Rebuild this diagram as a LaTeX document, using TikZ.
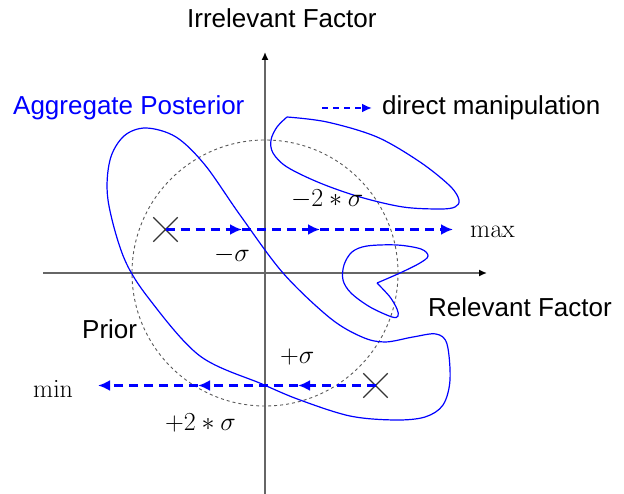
\documentclass[tikz,border=0pt]{standalone}
\usepackage[no-math]{fontspec}
\setmainfont{Liberation Sans}
\usetikzlibrary{arrows.meta,shapes.misc}
\newcommand\mymth[1]{\scalebox{1.045}{$#1$}}
\begin{document}
\begin{tikzpicture}[x=1pt,y=-1pt,
  lbl/.style={inner sep=0pt, anchor=base west, font=\fontsize{26}{31}\selectfont},
  mlbl/.style={inner sep=0pt, anchor=base west, font=\fontsize{24.88}{30}\selectfont},
  axis/.style={line width=1.5pt, black!60, -{Latex[length=8pt,width=7pt,black]}},
  priorline/.style={draw=black!65, line width=0.9pt, dash pattern=on 3pt off 3pt},
  post/.style={blue, line width=1.2pt},
  manip/.style={blue, line width=2.6pt, dash pattern=on 9pt off 6pt, -{Latex[length=12pt,width=11pt]}},
  legarrow/.style={blue, line width=2pt, dash pattern=on 6pt off 5pt, -{Latex[length=10pt,width=9pt]}},
  xmark/.style={cross out, draw=black!80, line width=1.3pt, minimum size=23pt, inner sep=0pt}
]
\useasboundingbox (0,0) rectangle (624,494);

% axes
\coordinate (ox1) at (43,273);
\coordinate (ox2) at (487,273);
\coordinate (oy1) at (265,494);
\coordinate (oy2) at (265,52);
\draw[axis] (ox1) -- (ox2);
\draw[axis] (oy1) -- (oy2);

% prior
\node[priorline, circle, minimum size=266pt, inner sep=0pt] (prior) at (265,273) {};

% aggregate posterior
\draw[post] plot[smooth cycle, tension=0.55] coordinates {
 (108,200) (110,160) (124,136) (146,128) (176,137) (205,165) (240,215)
 (283,273) (330,318) (362,337) (385,342) (413,337) (436,334) (447,344) (450,380)
 (443,405) (425,417) (395,420) (350,416) (300,400) (262,384) (200,356)
 (150,300) (124,258)};
\draw[post] plot[smooth, tension=0.55] coordinates {
 (287,117) (327,122) (377,137) (420,162) (450,186) (459,200) (455,207)
 (440,209) (403,207) (360,197) (320,183) (287,167) (273,153) (271,140)
 (277,127) (287,117)};
\draw[post] plot[smooth, tension=0.55] coordinates {
 (377,283) (390,297) (397,309) (398,316) (392,317) (370,307) (351,293)
 (343,280) (344,265) (352,252) (367,246) (397,245) (421,249) (428,256)
 (420,263) (400,273) (377,283)};

% crosses
\node[xmark] (xa) at (165.5,229.5) {};
\node[xmark] (xb) at (375.5,385.5) {};

% manipulation arrows
\coordinate (p1) at (242,229.5);
\coordinate (p2) at (320,229.5);
\coordinate (pmax) at (453,229.5);
\draw[manip] (xa.center) -- (p1);
\draw[manip] (p1) -- (p2);
\draw[manip] (p2) -- (pmax);
\coordinate (q1) at (298,385.5);
\coordinate (q2) at (198,385.5);
\coordinate (qmin) at (98,385.5);
\draw[manip] (xb.center) -- (q1);
\draw[manip] (q1) -- (q2);
\draw[manip] (q2) -- (qmin);

% legend
\coordinate (la) at (322,108);
\coordinate (lb) at (372,108);
\draw[legarrow] (la) -- (lb);
\node[lbl] (legtext) at (382,115) {direct manipulation};

% labels
\node[lbl] (irr) at (187,28) {Irrelevant Factor};
\node[lbl] (rel) at (428,317) {Relevant Factor};
\node[lbl, text=blue] (agg) at (13,115) {Aggregate Posterior};
\node[lbl] (priorlbl) at (82,338) {Prior};
\node[mlbl] (maxl) at (470,238) {\mymth{\max}};
\node[mlbl] (minl) at (33,397) {\mymth{\min}};
\node[mlbl] (ms) at (214,262) {\mymth{-\sigma}};
\node[mlbl] (m2s) at (291,207) {\mymth{-2*\sigma}};
\node[mlbl] (ps) at (280,363) {\mymth{+\sigma}};
\node[mlbl] (p2s) at (165,430) {\mymth{+2*\sigma}};
\end{tikzpicture}
\end{document}
